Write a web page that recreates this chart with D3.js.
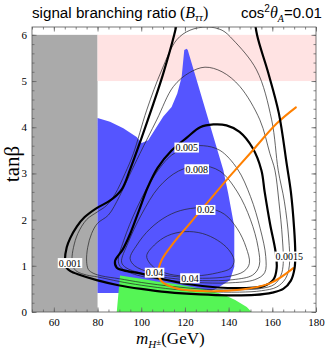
<!DOCTYPE html>
<html><head><meta charset="utf-8">
<script src="https://cdn.jsdelivr.net/npm/d3@7"></script>
<style>body{margin:0;background:#fff}svg{display:block}</style>
</head><body>
<svg id="c" width="332" height="350"></svg>
<script>
// ---------- data ----------
const xTicks = [60, 80, 100, 120, 140, 160, 180];
const yTicks = [0, 1, 2, 3, 4, 5, 6];
const xMinor = d3.range(50, 181, 5);
const yMinor = d3.range(0, 6.17, 0.2);

const grayBox = [[50, 0], [80, 6]];
const pinkBox = [[80, 5], [180, 6]];

const blueRegion = [[80,4.2],[85.7,4.12],[91.8,3.98],[97.9,3.79],[100.2,3.66],[103.2,3.72],[107.1,4.01],[110.1,4.23],[113.9,4.44],[116.5,4.73],[118.5,5.09],[119.7,5.67],[120.8,5.7],[121.3,5.67],[137.6,3.07],[139.8,2.57],[142.6,1.85],[142.6,0.98],[140.6,0.69],[134.5,0.51],[131.5,0.44],[110,0.41],[80,0.41]];
const greenRegion = [[88.8,0],[90.3,0.79],[100,0.72],[107,0.66],[115,0.61],[122,0.55],[130,0.48],[137.6,0.38],[143,0.26],[148.3,0.11],[150.5,0]];

const thickOuter = [[117.8,6.6],[115.1,6.0],[110,5.15],[105.5,4.5],[100,3.75],[95,3.1],[91,2.65],[86,2.42],[79.6,2.25],[74,2.05],[70.5,1.85],[67.5,1.6],[65.9,1.4],[65.1,1.1],[65.8,0.96],[67.4,0.89],[72,0.8],[79.6,0.69],[89.5,0.58],[100,0.5],[112,0.43],[127,0.38],[140,0.36],[152,0.37],[160,0.42],[165,0.5],[168.5,0.68],[170.2,0.95],[170.5,1.3],[170,1.8],[168.5,2.6],[166.6,3.2],[163,4.3],[158,5.2],[153,6.0],[151.3,6.6]];
const thickInner = [[133,4.06],[127,4.0],[121,3.78],[114,3.5],[107.5,3.12],[103,2.7],[99,2.2],[95,1.7],[91.5,1.35],[88,1.1],[88.8,0.96],[92,0.9],[100,0.83],[110,0.71],[122,0.6],[135,0.53],[148,0.52],[156,0.56],[160.5,0.7],[162,0.95],[161.5,1.3],[159,1.9],[156.5,2.6],[155,3.07],[151,3.55],[145,3.9],[139,4.04]];

const c0001 = [[130.2,6.17],[122.3,6.1],[116.2,5.89],[109.4,5.24],[102.5,4.37],[96.4,3.43],[92.6,3.0],[88,2.55],[84,2.3],[80,2.17],[75,2.0],[71,1.7],[69,1.4],[68.3,1.15],[68.8,0.98],[70.5,0.88],[75,0.8],[80,0.76],[90,0.66],[100,0.58],[115,0.49],[130,0.44],[145,0.43],[155,0.46],[162,0.54],[166,0.72],[167.8,1.0],[167.5,1.6],[165.5,2.4],[162.7,3.07],[159.7,4.16],[152.8,5.24],[142.1,5.89],[137,6.1]];
const c00015 = [[129.2,5.3],[122,5.18],[114.7,4.88],[107.1,4.16],[99.4,3.43],[94.5,2.95],[90,2.5],[85,2.1],[80,1.92],[77.3,1.7],[75.5,1.4],[75,1.1],[75.8,0.92],[78,0.84],[82,0.78],[90,0.72],[100,0.64],[115,0.55],[130,0.49],[145,0.48],[155,0.51],[161,0.6],[164,0.8],[165,1.05],[164.6,1.6],[163,2.4],[161.2,3.07],[158.9,3.43],[154.3,4.16],[145.2,4.88],[137,5.2]];
const c0005 = [[89.5,1.1],[92,1.55],[98,2.25],[106,2.95],[114,3.4],[122,3.57],[128.4,3.6],[136,3.5],[144,3.1],[150,2.5],[154.5,1.8],[157,1.2],[156.5,0.85],[152,0.7],[140,0.63],[125,0.64],[110,0.7],[98,0.8],[91,0.95]];
const c0008 = [[91,1.08],[94,1.5],[100,2.1],[108,2.7],[117,3.05],[127,3.17],[136,3.05],[144,2.6],[150,2.0],[153.5,1.4],[154,1.0],[151,0.8],[142,0.7],[128,0.68],[112,0.74],[100,0.84],[93,0.96]];
const c002 = [[94.9,1.16],[98,1.45],[104,1.8],[112,2.08],[120,2.22],[130,2.25],[138,2.12],[144,1.8],[148,1.4],[149.5,1.05],[147,0.88],[140,0.77],[128,0.73],[115,0.77],[104,0.86],[97,1.0]];
const c004 = [[102.5,1.22],[106,1.45],[112,1.65],[120,1.74],[128,1.7],[135,1.55],[140,1.35],[142.5,1.12],[141,0.95],[135,0.85],[125,0.78],[115,0.8],[108,0.9],[104,1.05]];

const orangeLine = [[170.8,4.43],[162,4.08],[150.5,3.47],[143,3.07],[139.1,2.86],[130,2.35],[122.3,1.92],[114.7,1.49],[109.4,1.13],[107.8,0.84],[109.4,0.66],[116.2,0.51],[130,0.45],[145.2,0.48],[158.9,0.62],[169.6,0.95]];

const labelText = ["0.001", "0.0015", "0.005", "0.008", "0.02", "0.04", "0.04"];
const labelX = [67.4, 167.7, 120.8, 125.4, 129.5, 106.1, 122.3];
const labelY = [1.06, 1.2, 3.56, 3.09, 2.21, 0.85, 0.73];

// ---------- chart ----------
const svg = d3.select("#c");
const x = d3.scaleLinear().domain([50, 180]).range([32, 316]);
const y = d3.scaleLinear().domain([0, 6.17]).range([312, 27]);
const serif = "'Liberation Serif','Times New Roman',serif";
const sans = "'Liberation Sans',Arial,sans-serif";

svg.append("defs").append("clipPath").attr("id", "clip")
  .append("rect").attr("x", 32).attr("y", 27).attr("width", 284).attr("height", 285);
const plot = svg.append("g").attr("clip-path", "url(#clip)");

function box(b, fill) {
  plot.append("rect").attr("x", x(b[0][0])).attr("y", y(b[1][1]))
    .attr("width", x(b[1][0]) - x(b[0][0])).attr("height", y(b[0][1]) - y(b[1][1]))
    .attr("fill", fill);
}
box(grayBox, "#aaaaaa");
box(pinkBox, "#ffe3e3");

const area = d3.line().x(d => x(d[0])).y(d => y(d[1]));
plot.append("path").attr("d", area(blueRegion) + "Z").attr("fill", "#5555ff");
plot.append("path").attr("d", area(greenRegion) + "Z").attr("fill", "#55f555");

const openL = d3.line().x(d => x(d[0])).y(d => y(d[1])).curve(d3.curveCatmullRom.alpha(0.5));
const closedL = d3.line().x(d => x(d[0])).y(d => y(d[1])).curve(d3.curveCatmullRomClosed.alpha(0.5));

[c0001, c00015, c0005, c0008, c002, c004].forEach(c => {
  plot.append("path").attr("d", closedL(c)).attr("fill", "none").attr("stroke", "#222").attr("stroke-width", 0.7);
});
plot.append("path").attr("d", closedL(thickInner)).attr("fill", "none").attr("stroke", "#000").attr("stroke-width", 2.2);
plot.append("path").attr("d", openL(orangeLine)).attr("fill", "none").attr("stroke", "#ff8000").attr("stroke-width", 2).attr("stroke-linecap", "round");

// labels
const lg = svg.append("g");
labelText.forEach((t, i) => {
  const g = lg.append("g").attr("transform", `translate(${x(labelX[i])},${y(labelY[i])})`);
  const r = g.append("rect").attr("fill", "#fff");
  const tx = g.append("text").text(t).attr("text-anchor", "middle").attr("dy", "0.35em")
    .attr("font-family", serif).attr("font-size", 10).attr("fill", "#000");
  const w = tx.node().getComputedTextLength();
  r.attr("x", -w / 2 - 1).attr("y", -5).attr("width", w + 2).attr("height", 10);
});

plot.append("path").attr("d", openL(thickOuter)).attr("fill", "none").attr("stroke", "#000").attr("stroke-width", 2.2);

// frame & axes
const axG = svg.append("g").attr("font-family", serif);
function axis(gen, tr) {
  const g = axG.append("g").attr("transform", tr).call(gen);
  g.select(".domain").remove();
  g.selectAll("line").attr("stroke", "#666").attr("stroke-width", 0.8);
  g.selectAll("text").attr("font-family", serif).attr("font-size", 11).attr("fill", "#000");
  return g;
}
axis(d3.axisBottom(x).tickValues(xTicks).tickFormat(d3.format("d")).tickSizeInner(-4.5).tickSizeOuter(0).tickPadding(6), "translate(0,312)");
axis(d3.axisBottom(x).tickValues(xMinor).tickSize(-2.5).tickFormat(""), "translate(0,312)");
axis(d3.axisTop(x).tickValues(xTicks).tickSize(-4.5).tickFormat(""), "translate(0,27)");
axis(d3.axisTop(x).tickValues(xMinor).tickSize(-2.5).tickFormat(""), "translate(0,27)");
axis(d3.axisLeft(y).tickValues(yTicks).tickFormat(d3.format("d")).tickSizeInner(-4.5).tickSizeOuter(0).tickPadding(5), "translate(32,0)");
axis(d3.axisLeft(y).tickValues(yMinor).tickSize(-2.5).tickFormat(""), "translate(32,0)");
axis(d3.axisRight(y).tickValues(yTicks).tickSize(-4.5).tickFormat(""), "translate(316,0)");
axis(d3.axisRight(y).tickValues(yMinor).tickSize(-2.5).tickFormat(""), "translate(316,0)");
svg.append("rect").attr("x", 32).attr("y", 27).attr("width", 284).attr("height", 285)
  .attr("fill", "none").attr("stroke", "#555").attr("stroke-width", 0.8);

// title
const t1 = svg.append("text").attr("x", 32).attr("y", 18).attr("font-family", sans).attr("font-size", 15.2).attr("fill", "#000");
t1.append("tspan").text("signal branching ratio");
const t2 = svg.append("text").attr("x", 180).attr("y", 18).attr("font-family", serif).attr("font-size", 16).attr("fill", "#000");
t2.append("tspan").text("(");
t2.append("tspan").attr("font-style", "italic").text("B");
t2.append("tspan").attr("font-style", "italic").attr("font-size", 11).attr("dy", 3).text("ττ");
t2.append("tspan").attr("dy", -3).text(")");
const t3 = svg.append("text").attr("x", 241).attr("y", 18).attr("font-family", sans).attr("font-size", 15).attr("fill", "#000");
t3.append("tspan").text("cos");
t3.append("tspan").attr("font-size", 10).attr("dy", -6).text("2");
t3.append("tspan").attr("font-family", serif).attr("font-style", "italic").attr("font-size", 16).attr("dy", 6).text("θ");
t3.append("tspan").attr("font-family", serif).attr("font-style", "italic").attr("font-size", 10).attr("dy", 4).text("A");
t3.append("tspan").attr("dy", -4).text("=0.01");

// axis titles
const xl = svg.append("text").attr("x", 136).attr("y", 344).attr("font-family", serif).attr("font-size", 17).attr("fill", "#000");
xl.append("tspan").attr("font-style", "italic").text("m");
xl.append("tspan").attr("font-style", "italic").attr("font-size", 11).attr("dy", 4).text("H");
xl.append("tspan").attr("font-size", 9).attr("dy", -3).text("±");
xl.append("tspan").attr("dy", -1).text("(GeV)");

svg.append("text").attr("transform", "translate(19,164) rotate(-90)").attr("text-anchor", "middle")
  .attr("font-family", serif).attr("font-size", 21).attr("fill", "#000").text("tanβ");
</script>
</body></html>
